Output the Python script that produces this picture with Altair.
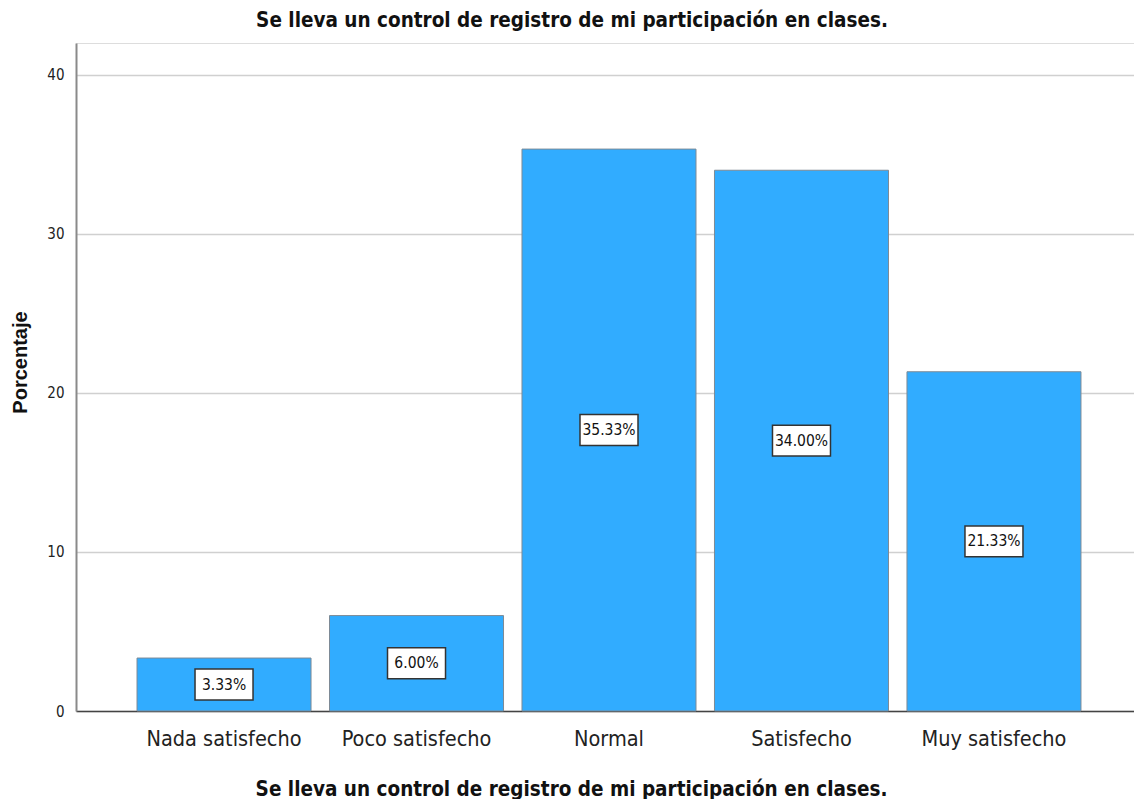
import altair as alt
import pandas as pd

categories = ["Nada satisfecho", "Poco satisfecho", "Normal", "Satisfecho", "Muy satisfecho"]
percentages = [3.33, 6.00, 35.33, 34.00, 21.33]
labels = ["3.33%", "6.00%", "35.33%", "34.00%", "21.33%"]
y_ticks = [0, 10, 20, 30, 40]
title_text = "Se lleva un control de registro de mi participación en clases."

df = pd.DataFrame({"cat": categories, "pct": percentages, "label": labels})

NARROW = "Liberation Sans Narrow, Arial Narrow, DejaVu Sans Condensed, sans-serif"

x_scale = alt.Scale(paddingInner=0.096, paddingOuter=0.317, range=[0, 1066])

x_enc = alt.X(
    "cat:N",
    sort=categories,
    scale=x_scale,
    axis=alt.Axis(
        title=title_text,
        titleFont=NARROW,
        titleFontSize=20.5,
        titleFontWeight="bold",
        titleColor="#111111",
        titleY=84,
        titleBaseline="alphabetic",
        titleX=495,
        titleAnchor="middle",
        titleAlign="center",
        labelFont=NARROW,
        labelFontSize=21.5,
        labelColor="#222222",
        labelPadding=17,
        labelAngle=0,
        ticks=False,
        domainColor="#444444",
        domainWidth=1.5,
    ),
)

y_scale = alt.Scale(domain=[0, 42], nice=False)

bars = alt.Chart(df).mark_bar(
    color="#31acff", stroke="#7d8a96", strokeWidth=1
).encode(
    x=x_enc,
    y=alt.Y(
        "pct:Q",
        scale=y_scale,
        axis=alt.Axis(
            values=y_ticks,
            title="Porcentaje",
            titleFont="Liberation Sans, Arial, sans-serif",
            titleFontSize=20,
            titleFontWeight="bold",
            titleColor="#111111",
            titleX=-56,
            titleY=319,
            titleAngle=-90,
            titleAlign="center",
            titleBaseline="middle",
            labelFont=NARROW,
            labelFontSize=15,
            labelColor="#222222",
            labelPadding=12,
            ticks=False,
            grid=True,
            gridColor="#d0d0d0",
            gridWidth=1.6,
            domainColor="#8a8a8a",
            domainWidth=2,
        ),
    ),
)

box_path = "M-1,-0.534L1,-0.534L1,0.534L-1,0.534Z"

boxes = alt.Chart(df).transform_calculate(mid="datum.pct / 2").mark_point(
    shape=box_path, size=3364, filled=True, fill="white", stroke="#333333",
    strokeWidth=1.5, opacity=1
).encode(
    x=alt.X("cat:N", sort=categories, scale=x_scale),
    y=alt.Y("mid:Q", scale=y_scale),
)

texts = alt.Chart(df).transform_calculate(mid="datum.pct / 2").mark_text(
    font=NARROW, fontSize=15.5, color="#111111", baseline="middle", align="center"
).encode(
    x=alt.X("cat:N", sort=categories, scale=x_scale),
    y=alt.Y("mid:Q", scale=y_scale),
    text="label:N",
)

chart = alt.layer(bars, boxes, texts).properties(
    width=1058,
    height=668,
    title=alt.TitleParams(
        text=title_text,
        font=NARROW,
        fontSize=20.5,
        fontWeight="bold",
        color="#111111",
        anchor="middle",
        baseline="alphabetic",
        offset=16,
        dx=-33,
        dy=20,
    ),
    autosize=alt.AutoSizeParams(type="none"),
    padding={"left": 68, "top": 35, "right": 0, "bottom": 88},
).configure_view(stroke=None).configure(background="white")

chart.save("out.html", embed_options={"renderer": "svg", "actions": False})
